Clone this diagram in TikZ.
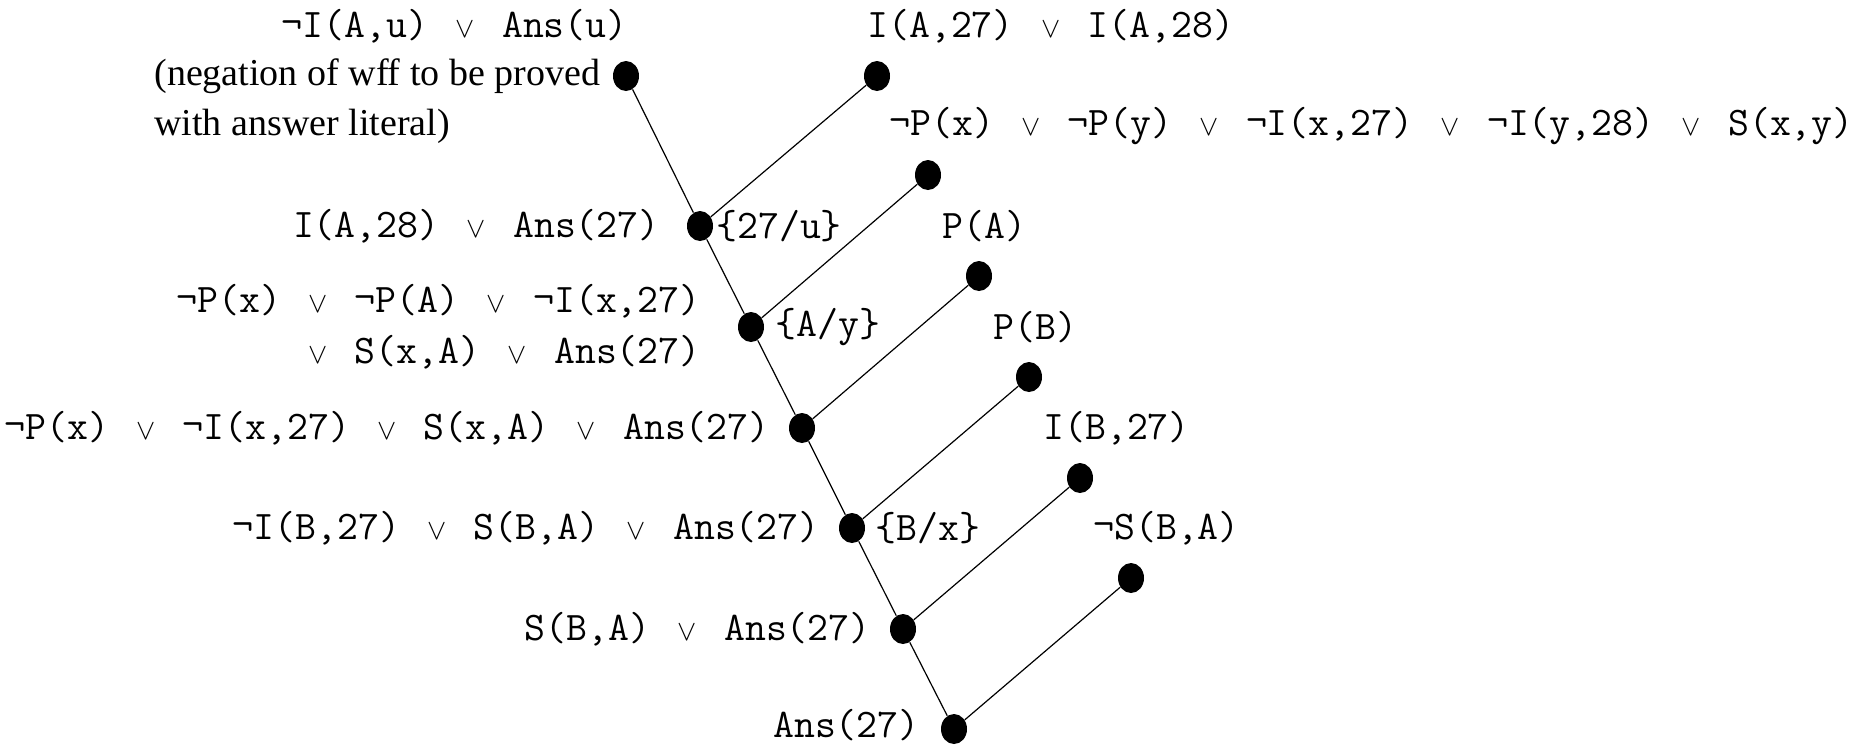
\documentclass[tikz,border=0pt]{standalone}
\usepackage{fontspec}
\setmainfont{Liberation Serif}
\usetikzlibrary{shapes.geometric}
\newcommand{\orsym}{\makebox[0.7875em]{\fontsize{15}{15}\selectfont$\vee$}}
\begin{document}
\begin{tikzpicture}[
      x=0.5pt, y=-0.5pt,
      every node/.style={inner sep=0pt},
      resnode/.style={ellipse, fill=black, minimum width=13pt,
                      minimum height=15pt},
      clause/.style={font=\ttfamily\fontsize{20.3}{25.5}\selectfont},
      subst/.style={font=\ttfamily\fontsize{20.3}{25.5}\selectfont},
      comment/.style={font=\fontsize{19}{25}\selectfont, align=left},
      edge/.style={line width=0.6pt},
    ]
    \useasboundingbox (0,0) rectangle (1858,746);

    % refutation spine
    \node[resnode] (goal) at (626,76) {};
    \node[resnode] (res1) at (700,226) {};
    \node[resnode] (res2) at (751,327) {};
    \node[resnode] (res3) at (802,428) {};
    \node[resnode] (res4) at (852,528) {};
    \node[resnode] (res5) at (903,629) {};
    \node[resnode] (res6) at (954,729) {};

    % base clauses
    \node[resnode] (ax1) at (877,76) {};
    \node[resnode] (ax2) at (928,175) {};
    \node[resnode] (ax3) at (979,276) {};
    \node[resnode] (ax4) at (1029,377) {};
    \node[resnode] (ax5) at (1080,478) {};
    \node[resnode] (ax6) at (1131,578) {};

    % clause texts
    \node[clause, anchor=east] (goaltxt) at (628,26)
      {\textlnot I(A,u)~\orsym~Ans(u)};
    \node[comment, anchor=west] (note) at (154,101)
      {(negation of wff to be proved\\with answer literal)};
    \node[clause, anchor=west] (ax1txt) at (867,26)
      {I(A,27)~\orsym~I(A,28)};
    \node[clause, anchor=west] (ax2txt) at (889,126)
      {\textlnot P(x)~\orsym~\textlnot P(y)~\orsym~\textlnot I(x,27)~\orsym~\textlnot I(y,28)~\orsym~S(x,y)};
    \node[clause, anchor=west] (ax3txt) at (942,226) {P(A)};
    \node[clause, anchor=west] (ax4txt) at (993,327) {P(B)};
    \node[clause, anchor=west] (ax5txt) at (1043,428) {I(B,27)};
    \node[clause, anchor=west] (ax6txt) at (1093,528) {\textlnot S(B,A)};

    \node[clause, anchor=east] (res1txt) at (660,226)
      {I(A,28)~\orsym~Ans(27)};
    \node[clause, anchor=east, align=right] (res2txt) at (701,327)
      {\textlnot P(x)~\orsym~\textlnot P(A)~\orsym~\textlnot I(x,27)\\
       \orsym~S(x,A)~\orsym~Ans(27)};
    \node[clause, anchor=east] (res3txt) at (770,428)
      {\textlnot P(x)~\orsym~\textlnot I(x,27)~\orsym~S(x,A)~\orsym~Ans(27)};
    \node[clause, anchor=east] (res4txt) at (820,528)
      {\textlnot I(B,27)~\orsym~S(B,A)~\orsym~Ans(27)};
    \node[clause, anchor=east] (res5txt) at (871,629)
      {S(B,A)~\orsym~Ans(27)};
    \node[clause, anchor=east] (res6txt) at (920,725) {Ans(27)};

    % substitutions
    \node[subst, anchor=west] (sub1) at (716,226) {\{27/u\}};
    \node[subst, anchor=west] (sub2) at (775,327) {\{A/y\}};
    \node[subst, anchor=west] (sub4) at (875,528) {\{B/x\}};

    \draw[edge] (goal) -- (res1) -- (res2) -- (res3) -- (res4)
      -- (res5) -- (res6);
    \draw[edge] (ax1) -- (res1);
    \draw[edge] (ax2) -- (res2);
    \draw[edge] (ax3) -- (res3);
    \draw[edge] (ax4) -- (res4);
    \draw[edge] (ax5) -- (res5);
    \draw[edge] (ax6) -- (res6);

  \end{tikzpicture}
\end{document}
